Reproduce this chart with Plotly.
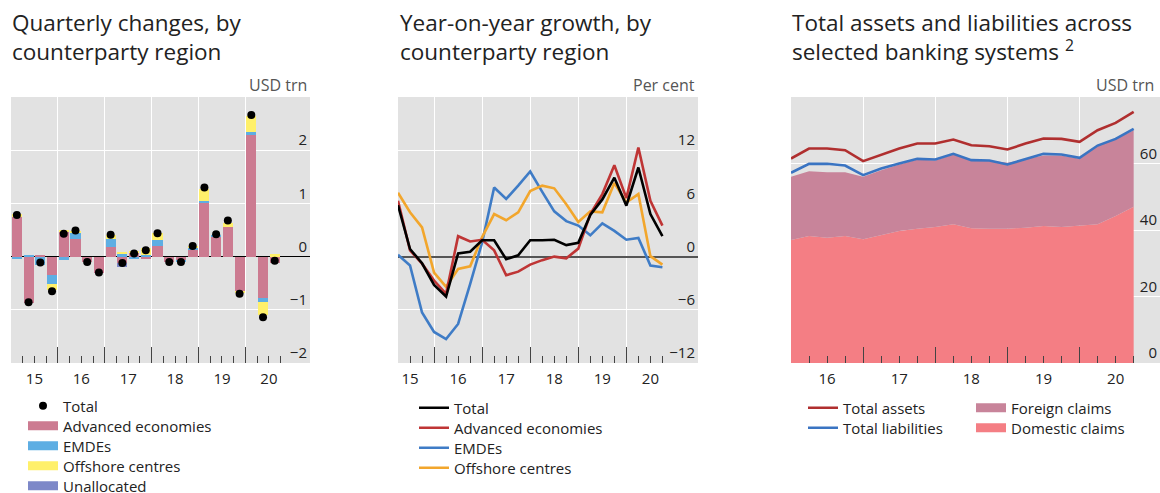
import plotly.graph_objects as go

W, H = 1160, 493

# ---------------- data ----------------
quarters_q = ["2015Q1", "2015Q2", "2015Q3", "2015Q4", "2016Q1", "2016Q2", "2016Q3", "2016Q4",
              "2017Q1", "2017Q2", "2017Q3", "2017Q4", "2018Q1", "2018Q2", "2018Q3", "2018Q4",
              "2019Q1", "2019Q2", "2019Q3", "2019Q4", "2020Q1", "2020Q2", "2020Q3"]

# Panel 1: quarterly changes, USD trn
chg_advanced = [0.74, -0.88, 0.02, -0.35, 0.48, 0.33, -0.10, -0.30, 0.18, -0.12, 0.07, -0.05,
                0.20, -0.10, -0.08, 0.13, 1.00, 0.37, 0.56, -0.64, 2.28, -0.77, -0.12]
chg_emdes = [-0.04, 0.03, -0.15, -0.16, -0.06, 0.12, 0.00, 0.00, 0.15, 0.05, -0.04, 0.03,
             0.11, 0.00, -0.03, 0.04, 0.05, 0.04, 0.00, 0.00, 0.06, -0.08, 0.00]
chg_offshore = [0.06, 0.00, 0.00, -0.12, 0.02, 0.03, 0.00, 0.00, 0.07, 0.02, 0.03, 0.14,
                0.13, 0.00, 0.00, 0.03, 0.22, 0.00, 0.08, -0.05, 0.30, -0.25, 0.04]
chg_unallocated = [0.00, 0.00, 0.00, 0.00, 0.00, 0.00, 0.00, 0.00, 0.00, -0.07, 0.00, 0.00,
                   0.00, 0.00, 0.00, 0.00, 0.00, 0.00, 0.00, 0.00, 0.00, 0.00, 0.00]
chg_total = [0.78, -0.86, -0.11, -0.65, 0.43, 0.49, -0.10, -0.30, 0.41, -0.12, 0.06, 0.12,
             0.44, -0.10, -0.10, 0.20, 1.30, 0.42, 0.68, -0.70, 2.66, -1.14, -0.08]

# Panel 2: year-on-year growth, per cent
yoy_total = [5.8, 0.86, -0.75, -3.2, -4.5, 0.35, 0.55, 1.85, 1.85, -0.3, 0.15, 1.85,
             1.85, 1.9, 1.3, 1.55, 4.7, 6.45, 8.9, 5.75, 10.05, 4.8, 2.3]
yoy_advanced = [6.3, 0.7, -0.8, -2.7, -4.2, 2.3, 1.7, 1.9, 0.7, -2.1, -1.7, -0.9,
                -0.4, 0.0, -0.2, 0.9, 4.8, 7.05, 10.3, 6.6, 12.3, 6.3, 3.5]
yoy_emdes = [0.2, -1.0, -6.3, -8.5, -9.3, -7.6, -3.1, 1.6, 7.8, 6.5, 8.0, 9.6,
             7.3, 5.1, 4.0, 3.5, 2.4, 3.75, 2.9, 1.9, 2.1, -1.0, -1.2]
yoy_offshore = [7.2, 5.0, 3.3, -1.8, -3.4, -1.4, -1.1, 2.2, 4.8, 4.1, 5.0, 7.4,
                8.0, 7.7, 5.9, 3.9, 5.1, 5.0, 8.3, 6.1, 7.05, 0.05, -0.9]

# Panel 3: banking systems, USD trn
quarters_bs = ["2015Q4", "2016Q1", "2016Q2", "2016Q3", "2016Q4", "2017Q1", "2017Q2", "2017Q3",
               "2017Q4", "2018Q1", "2018Q2", "2018Q3", "2018Q4", "2019Q1", "2019Q2", "2019Q3",
               "2019Q4", "2020Q1", "2020Q2", "2020Q3"]
total_assets = [61.5, 64.5, 64.5, 64.0, 60.7, 62.7, 64.5, 66.0, 66.0, 67.2, 65.5, 65.2,
                64.2, 66.0, 67.5, 67.4, 66.5, 70.0, 72.2, 75.5]
total_liabilities = [57.2, 59.9, 59.9, 59.4, 56.5, 58.5, 60.0, 61.4, 61.2, 62.9, 61.0, 60.9,
                     59.7, 61.4, 62.9, 62.7, 61.7, 65.4, 67.4, 70.4]
domestic_claims = [37.0, 38.2, 37.7, 38.2, 37.2, 38.5, 39.7, 40.4, 40.9, 41.7, 40.5, 40.4,
                   40.4, 40.7, 41.2, 40.9, 41.2, 41.7, 44.2, 47.0]
foreign_claims = [19.0, 19.5, 19.7, 19.2, 18.8, 19.5, 20.0, 20.8, 20.0, 21.0, 20.7, 20.5,
                  19.8, 20.5, 21.2, 21.5, 20.2, 23.5, 23.2, 23.0]

year_labels = ["15", "16", "17", "18", "19", "20"]
year_label_vals = [2015, 2016, 2017, 2018, 2019, 2020]


def q_start(q):
    return int(q[:4]) + (int(q[5]) - 1) * 0.25


x_bar = [q_start(q) + 0.125 for q in quarters_q]      # bars centred in quarter
x_line = [q_start(q) + 0.25 for q in quarters_q]      # lines at quarter end
x_bs = [q_start(q) + 0.25 for q in quarters_bs]

# ---------------- colours ----------------
C_ADV = "#cc7b91"
C_EMDE = "#5eaee3"
C_OFF = "#fff06a"
C_UNAL = "#7d88c8"
L_BLACK = "#000000"
L_RED = "#bf3535"
L_BLUE = "#3f7cc6"
L_ORANGE = "#f2a62c"
A_RED = "#b02f2f"
A_BLUE = "#3a74c2"
F_FOREIGN = "#c8849a"
F_DOMESTIC = "#f47e84"
BG = "#e2e2e2"
FONT = "Open Sans"

fig = go.Figure()
legends = {}


def leg_entry(key, x_px, y_px):
    legends[key] = dict(x=x_px / W, y=1 - y_px / H, xanchor="left", yanchor="middle",
                        bgcolor="rgba(0,0,0,0)", borderwidth=0,
                        font=dict(size=15, color="#222", family=FONT),
                        itemclick=False, itemdoubleclick=False)


# ---- Panel 1 ----
for name, vals, col in [("Advanced economies", chg_advanced, C_ADV), ("EMDEs", chg_emdes, C_EMDE),
                        ("Offshore centres", chg_offshore, C_OFF), ("Unallocated", chg_unallocated, C_UNAL)]:
    fig.add_trace(go.Bar(x=x_bar, y=vals, width=0.215, marker=dict(color=col, line=dict(width=0)),
                         name=name, showlegend=False, xaxis="x", yaxis="y"))
fig.add_trace(go.Scatter(x=x_bar, y=chg_total, mode="markers", marker=dict(color="black", size=8),
                         name="Total", legend="legend", xaxis="x", yaxis="y"))
leg_entry("legend", 23, 406)
p1_leg = [("Advanced economies", C_ADV), ("EMDEs", C_EMDE), ("Offshore centres", C_OFF), ("Unallocated", C_UNAL)]
for i, (name, col) in enumerate(p1_leg):
    key = "legend%d" % (i + 2)
    fig.add_trace(go.Scatter(x=[None], y=[None], mode="lines", line=dict(color=col, width=9),
                             name=name, legend=key, xaxis="x", yaxis="y"))
    leg_entry(key, 23, 426 + 20 * i)

# ---- Panel 2 ----
line_order = [("EMDEs", yoy_emdes, L_BLUE), ("Offshore centres", yoy_offshore, L_ORANGE),
              ("Advanced economies", yoy_advanced, L_RED), ("Total", yoy_total, L_BLACK)]
for name, vals, col in line_order:
    fig.add_trace(go.Scatter(x=x_line, y=vals, mode="lines", line=dict(color=col, width=2.6),
                             name=name, showlegend=False, xaxis="x2", yaxis="y2"))
p2_leg = [("Total", L_BLACK), ("Advanced economies", L_RED), ("EMDEs", L_BLUE), ("Offshore centres", L_ORANGE)]
for i, (name, col) in enumerate(p2_leg):
    key = "legend%d" % (i + 6)
    fig.add_trace(go.Scatter(x=[None], y=[None], mode="lines", line=dict(color=col, width=2.6),
                             name=name, legend=key, xaxis="x2", yaxis="y2"))
    leg_entry(key, 414, 408 + 20 * i)

# ---- Panel 3 ----
fig.add_trace(go.Scatter(x=x_bs, y=domestic_claims, mode="lines", stackgroup="claims",
                         line=dict(width=0, color=F_DOMESTIC), fillcolor=F_DOMESTIC,
                         name="Domestic claims", showlegend=False, xaxis="x3", yaxis="y3"))
fig.add_trace(go.Scatter(x=x_bs, y=foreign_claims, mode="lines", stackgroup="claims",
                         line=dict(width=0, color=F_FOREIGN), fillcolor=F_FOREIGN,
                         name="Foreign claims", showlegend=False, xaxis="x3", yaxis="y3"))
fig.add_trace(go.Scatter(x=x_bs, y=total_liabilities, mode="lines", line=dict(color=A_BLUE, width=2.6),
                         name="Total liabilities", showlegend=False, xaxis="x3", yaxis="y3"))
fig.add_trace(go.Scatter(x=x_bs, y=total_assets, mode="lines", line=dict(color=A_RED, width=2.6),
                         name="Total assets", showlegend=False, xaxis="x3", yaxis="y3"))
p3_leg = [("Total assets", A_RED, 2.6, 803, 408), ("Total liabilities", A_BLUE, 2.6, 803, 428),
          ("Foreign claims", F_FOREIGN, 9, 971, 408), ("Domestic claims", F_DOMESTIC, 9, 971, 428)]
for i, (name, col, lw, lx, ly) in enumerate(p3_leg):
    key = "legend%d" % (i + 10)
    fig.add_trace(go.Scatter(x=[None], y=[None], mode="lines", line=dict(color=col, width=lw),
                             name=name, legend=key, xaxis="x3", yaxis="y3"))
    leg_entry(key, lx, ly)

# ---------------- axes ----------------
y_dom = [(H - 363) / H, (H - 97) / H]


def xaxis_cfg(dom, rng, first_year, first_minor):
    majors = list(range(first_year, 2021))
    minors = [first_year + 0.25 * k for k in range(int((2020.75 - first_year) / 0.25) + 1)]
    minors = [m for m in minors if abs(m - round(m)) > 1e-6 and m >= first_minor]
    return dict(domain=dom, range=rng, tickmode="array", tickvals=majors, showticklabels=False,
                ticks="inside", ticklen=16, tickwidth=1, tickcolor="#444", automargin=False,
                showgrid=True, gridcolor="white", gridwidth=1.3, zeroline=False, showline=False,
                minor=dict(tickmode="array", tickvals=minors, ticks="inside", ticklen=7,
                           tickwidth=1, tickcolor="#444", showgrid=False),
                fixedrange=True)


R1, R2, R3 = [2015.0, 2021.377], [2015.25, 2021.49], [2016.0, 2021.115]
fig.update_layout(
    xaxis=xaxis_cfg([11 / W, 310 / W], R1, 2015, 2015.0),
    xaxis2=xaxis_cfg([398 / W, 698 / W], R2, 2015, 2015.25),
    xaxis3=xaxis_cfg([791 / W, 1.0], R3, 2016, 2016.0),
)

lab_common = dict(tickmode="array", ticks="", showgrid=False, zeroline=False, showline=False,
                  automargin=False, ticklabelstandoff=5, fixedrange=True,
                  tickfont=dict(size=15, color="#222", family=FONT), side="bottom")
fig.update_layout(
    xaxis4=dict(overlaying="x", anchor="y", range=R1,
                tickvals=[v + 0.5 for v in year_label_vals], ticktext=year_labels, **lab_common),
    xaxis5=dict(overlaying="x2", anchor="y2", range=R2,
                tickvals=[v + 0.5 for v in year_label_vals], ticktext=year_labels, **lab_common),
    xaxis6=dict(overlaying="x3", anchor="y3", range=R3,
                tickvals=[v + 0.5 for v in year_label_vals[1:]], ticktext=year_labels[1:], **lab_common),
)
fig.add_trace(go.Scatter(x=[None], y=[None], xaxis="x4", yaxis="y", showlegend=False))
fig.add_trace(go.Scatter(x=[None], y=[None], xaxis="x5", yaxis="y2", showlegend=False))
fig.add_trace(go.Scatter(x=[None], y=[None], xaxis="x6", yaxis="y3", showlegend=False))

y_common = dict(domain=y_dom, side="right", ticklabelposition="inside", ticks="", automargin=False,
                showgrid=True, gridcolor="white", gridwidth=1.3, showline=False,
                tickfont=dict(size=15, color="#222", family=FONT), ticklabelshift=-10, fixedrange=True)
fig.update_layout(
    yaxis=dict(anchor="x", range=[-2, 3], tickvals=[-2, -1, 0, 1, 2], ticktext=["−2", "−1", "0", "1", "2"],
               tickmode="array", zeroline=True, zerolinecolor="black", zerolinewidth=1.4, **y_common),
    yaxis2=dict(anchor="x2", range=[-12, 18], tickvals=[-12, -6, 0, 6, 12],
                ticktext=["−12", "−6", "0", "6", "12"], tickmode="array",
                zeroline=True, zerolinecolor="#555", zerolinewidth=1.6, **y_common),
    yaxis3=dict(anchor="x3", range=[0, 80], tickvals=[0, 20, 40, 60], tickmode="array",
                zeroline=False, **y_common),
)

fig.update_layout(**legends)

# ---------------- text ----------------
ann = []
titles = [(10, "Quarterly changes, by<br>counterparty region"),
          (398, "Year-on-year growth, by<br>counterparty region"),
          (790, "Total assets and liabilities across<br>selected banking systems <sup>2</sup>")]
for x, t in titles:
    ann.append(dict(x=x / W, y=1 - 5 / H, xref="paper", yref="paper", xanchor="left", yanchor="top",
                    text=t, showarrow=False, align="left",
                    font=dict(size=22.5, color="#222", family=FONT)))
for x, t in [(309, "USD trn"), (697, "Per cent"), (1156, "USD trn")]:
    ann.append(dict(x=x / W, y=1 - 85 / H, xref="paper", yref="paper", xanchor="right", yanchor="middle",
                    text=t, showarrow=False, font=dict(size=16, color="#555", family=FONT)))

fig.update_layout(
    width=W, height=H, margin=dict(l=0, r=0, t=0, b=0, pad=0, autoexpand=False),
    paper_bgcolor="white", plot_bgcolor=BG, barmode="relative", bargap=0,
    font=dict(family=FONT, color="#222"), annotations=ann, showlegend=True,
    hovermode=False,
)

fig.write_html("out.html", config={"displayModeBar": False},
               post_script="document.body.style.margin='0px';document.body.style.overflow='hidden';")
